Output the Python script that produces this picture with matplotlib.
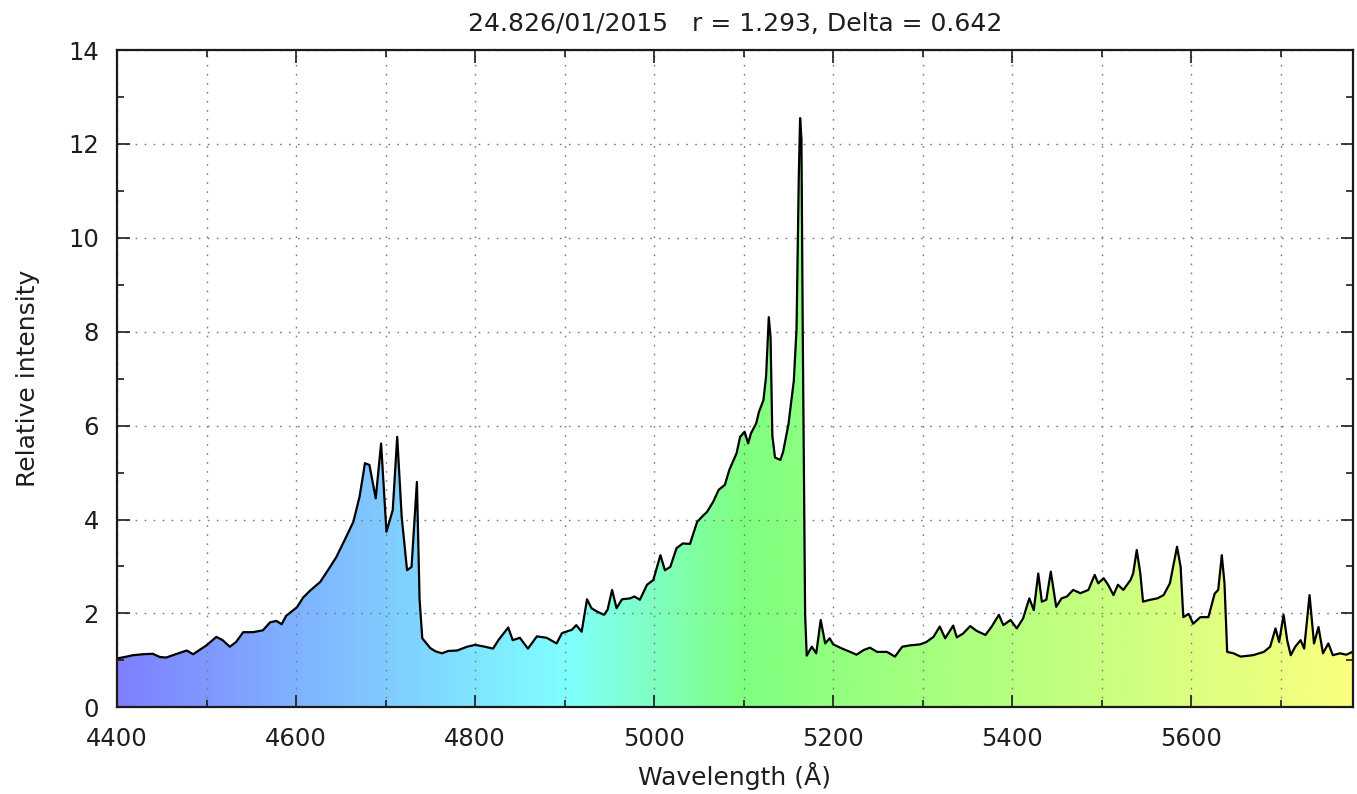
import numpy as np
import matplotlib
matplotlib.use("Agg")
import matplotlib.pyplot as plt
from matplotlib.colors import LinearSegmentedColormap, Normalize
from matplotlib.ticker import MultipleLocator

# Spectrum: wavelength (Angstrom) and relative intensity
wavelength = [
    4400, 4411, 4418, 4429, 4440, 4448, 4455, 4467, 4478, 4485, 4493, 4500,
    4511, 4518, 4526, 4533, 4541, 4552, 4563, 4571, 4578, 4584, 4589, 4601,
    4608, 4616, 4627, 4638, 4645, 4656, 4664, 4671, 4677, 4682, 4689, 4695,
    4701, 4708, 4713, 4718, 4724, 4729, 4735, 4738, 4741, 4750, 4756, 4763,
    4770, 4780, 4791, 4800, 4811, 4820, 4826, 4837, 4842, 4850, 4859, 4869,
    4880, 4891, 4897, 4908, 4913, 4919, 4925, 4930, 4936, 4944, 4948, 4953,
    4958, 4964, 4973, 4978, 4984, 4992, 4999, 5007, 5012, 5018, 5025, 5032,
    5040, 5048, 5055, 5059, 5066, 5072, 5079, 5084, 5092, 5096, 5101, 5105,
    5108, 5114, 5117, 5122, 5125, 5128, 5130, 5132, 5135, 5141, 5144, 5150,
    5156, 5159, 5161.5, 5163, 5164.5, 5166, 5168.6, 5170.4, 5176, 5181, 5186,
    5191, 5196, 5200, 5210, 5219, 5226, 5234, 5241, 5249, 5260, 5269, 5277,
    5286, 5297, 5304, 5312, 5319, 5325, 5334, 5338, 5345, 5353, 5360, 5370,
    5377, 5385, 5390, 5398, 5405, 5412, 5419, 5424, 5429, 5433, 5438, 5443,
    5449, 5455, 5461, 5468, 5476, 5485, 5492, 5496, 5502, 5507, 5513, 5518,
    5524, 5532, 5535, 5539, 5543, 5546, 5554, 5562, 5569, 5576, 5584, 5588,
    5591, 5597, 5602, 5610, 5619, 5626, 5630, 5634, 5637, 5640, 5647, 5655,
    5669, 5681, 5688, 5694, 5698, 5703, 5707, 5711, 5716, 5722, 5726, 5732,
    5737, 5742, 5747, 5753, 5758, 5766, 5773, 5780,
]
intensity = [
    1.04, 1.08, 1.11, 1.13, 1.14, 1.07, 1.06, 1.14, 1.21, 1.13, 1.23, 1.32,
    1.50, 1.43, 1.29, 1.39, 1.60, 1.60, 1.64, 1.81, 1.84, 1.77, 1.95, 2.13,
    2.34, 2.49, 2.67, 2.99, 3.20, 3.63, 3.95, 4.49, 5.20, 5.16, 4.45, 5.62,
    3.74, 4.20, 5.76, 4.06, 2.92, 2.99, 4.80, 2.29, 1.47, 1.26, 1.19, 1.15,
    1.20, 1.21, 1.29, 1.33, 1.29, 1.25, 1.43, 1.70, 1.43, 1.48, 1.25, 1.51,
    1.48, 1.36, 1.58, 1.65, 1.75, 1.61, 2.30, 2.11, 2.04, 1.97, 2.08, 2.50,
    2.11, 2.30, 2.32, 2.36, 2.29, 2.61, 2.71, 3.24, 2.92, 2.99, 3.39, 3.49,
    3.48, 3.95, 4.09, 4.16, 4.38, 4.63, 4.74, 5.06, 5.41, 5.76, 5.87, 5.62,
    5.83, 6.05, 6.29, 6.54, 7.05, 8.31, 7.89, 5.78, 5.32, 5.27, 5.44, 6.03,
    6.96, 8.06, 11.27, 12.55, 12.10, 7.89, 1.98, 1.10, 1.29, 1.15, 1.86,
    1.36, 1.47, 1.34, 1.25, 1.18, 1.12, 1.22, 1.27, 1.18, 1.18, 1.08, 1.29,
    1.32, 1.34, 1.39, 1.50, 1.72, 1.47, 1.74, 1.49, 1.57, 1.73, 1.63, 1.54,
    1.72, 1.97, 1.75, 1.86, 1.68, 1.89, 2.32, 2.07, 2.85, 2.25, 2.29, 2.89,
    2.14, 2.32, 2.36, 2.50, 2.43, 2.50, 2.82, 2.64, 2.75, 2.61, 2.39, 2.61,
    2.50, 2.71, 2.85, 3.35, 2.85, 2.25, 2.29, 2.32, 2.39, 2.64, 3.42, 2.99,
    1.92, 1.99, 1.78, 1.92, 1.92, 2.42, 2.50, 3.24, 2.64, 1.18, 1.15, 1.08,
    1.11, 1.18, 1.29, 1.68, 1.39, 1.97, 1.43, 1.11, 1.29, 1.43, 1.25, 2.39,
    1.36, 1.71, 1.15, 1.36, 1.11, 1.15, 1.12, 1.18,
]

x_major = [4400, 4600, 4800, 5000, 5200, 5400, 5600]
y_major = [0, 2, 4, 6, 8, 10, 12, 14]

title = "24.826/01/2015   r = 1.293, Delta = 0.642"

plt.rcParams["font.family"] = ["DejaVu Sans"]
text_color = "#1e1e1e"

# Pastel spectral colours used for the fill under the curve
spectral = LinearSegmentedColormap.from_list(
    "pastel_spectrum",
    [
        (0.0, (0.5, 0.5, 1.0)),
        (500 / 1400, (0.5, 1.0, 1.0)),
        (700 / 1400, (0.5, 1.0, 0.5)),
        (1.0, (1.0, 1.0, 0.5)),
    ],
)

fig = plt.figure(figsize=(13.57, 7.94), dpi=100)
ax = fig.add_axes([0.0862, 0.1092, 0.9105, 0.8278])

xmin, xmax = 4400, 5780
ymin, ymax = 0, 14

poly = ax.fill_between(wavelength, intensity, 0, facecolor="none", edgecolor="none")
grad = np.linspace(xmin, xmax, 1400).reshape(1, -1)
img = ax.imshow(
    grad, cmap=spectral, norm=Normalize(4400, 5800),
    extent=[xmin, xmax, ymin, ymax], aspect="auto", origin="lower",
    interpolation="bilinear", zorder=1,
)
img.set_clip_path(poly.get_paths()[0], transform=ax.transData)

ax.plot(wavelength, intensity, color="black", lw=1.6, zorder=3,
        solid_joinstyle="round")

ax.set_xlim(xmin, xmax)
ax.set_ylim(ymin, ymax)
ax.set_xticks(x_major)
ax.set_yticks(y_major)
ax.xaxis.set_minor_locator(MultipleLocator(100))
ax.yaxis.set_minor_locator(MultipleLocator(1))

ax.tick_params(which="both", direction="in", top=True, right=True,
               labelsize=17.5, color="#1a1a1a", width=1.2,
               labelcolor=text_color)
ax.tick_params(axis="x", which="both", pad=14)
ax.tick_params(axis="y", which="both", pad=13)
ax.tick_params(which="major", length=9)
ax.tick_params(which="minor", length=5)

grid_style = dict(color="#7a7a7a", linestyle=(0, (1.2, 5.3)), linewidth=1.0)
ax.grid(True, which="major", axis="both", **grid_style)
ax.grid(True, which="minor", axis="x", **grid_style)

for spine in ax.spines.values():
    spine.set_linewidth(1.6)
    spine.set_color("#1a1a1a")
    spine.set_zorder(4)

ax.set_title(title, fontsize=18, pad=14, color=text_color)
ax.set_xlabel("Wavelength (Å)", fontsize=18, labelpad=8, color=text_color)
ax.set_ylabel("Relative intensity", fontsize=18, labelpad=20, color=text_color)

fig.savefig("out.png", dpi=100)
